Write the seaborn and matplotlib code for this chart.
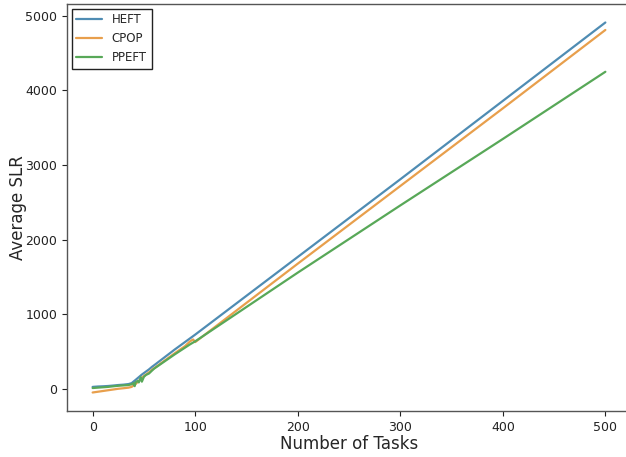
import pandas as pd
import matplotlib
matplotlib.use("Agg")
import matplotlib.pyplot as plt
import seaborn as sns

# Valores (número de tarefas vs SLR médio)
heft_x = [0, 5, 10, 15, 20, 25, 30, 35, 38, 42, 45, 48, 50, 52, 55, 58, 60,
          70, 80, 90, 95, 100, 200, 300, 400, 500]
heft_y = [30, 35, 38, 42, 48, 55, 60, 68, 80, 125, 160, 195, 215, 235, 265,
          300, 320, 425, 530, 630, 680, 730, 1770, 2810, 3860, 4910]

cpop_x = [0, 5, 10, 15, 20, 25, 30, 35, 38, 42, 45, 48, 50, 52, 55, 58, 60,
          70, 80, 90, 95, 98, 100, 200, 300, 400, 500]
cpop_y = [-45, -35, -25, -15, -5, 5, 12, 20, 30, 70, 110, 150, 175, 195, 225,
          260, 280, 380, 480, 575, 640, 665, 630, 1680, 2720, 3760, 4810]

ppeft_x = [0, 5, 10, 15, 20, 25, 30, 35, 38, 40, 41, 42, 44, 45, 47, 48, 50,
           52, 55, 58, 60, 70, 80, 90, 95, 100, 200, 300, 400, 500]
ppeft_y = [15, 20, 25, 30, 38, 45, 50, 55, 65, 80, 40, 95, 110, 90, 160, 100,
           165, 190, 210, 250, 275, 370, 465, 555, 600, 640, 1560, 2460, 3350,
           4250]

series = ["HEFT", "CPOP", "PPEFT"]
cores = ["#4f8cb3", "#e89f4c", "#58a858"]

# Montar tabela longa para o seaborn
df = pd.concat(
    [
        pd.DataFrame({"tasks": heft_x, "slr": heft_y, "alg": "HEFT"}),
        pd.DataFrame({"tasks": cpop_x, "slr": cpop_y, "alg": "CPOP"}),
        pd.DataFrame({"tasks": ppeft_x, "slr": ppeft_y, "alg": "PPEFT"}),
    ],
    ignore_index=True,
)

sns.set_style("ticks")
plt.rcParams["font.family"] = ["DejaVu Sans"]

fig = plt.figure(figsize=(6.26, 4.57), dpi=100)
ax = fig.add_axes([67 / 626, 46 / 457, (631 - 67) / 626, (411 - 4) / 457])

sns.lineplot(
    data=df,
    x="tasks",
    y="slr",
    hue="alg",
    hue_order=series,
    palette=cores,
    linewidth=1.6,
    sort=False,
    estimator=None,
    ax=ax,
)

ax.set_xticks([0, 100, 200, 300, 400, 500])
ax.set_yticks([0, 1000, 2000, 3000, 4000, 5000])
ax.tick_params(labelsize=9, colors="#222222", direction="out", length=3.5)
ax.set_xlabel("Number of Tasks", fontsize=12, labelpad=1)
ax.set_ylabel("Average SLR", fontsize=12, labelpad=-1.5)
for s in ax.spines.values():
    s.set_color("#555555")
    s.set_linewidth(1.0)

leg = ax.legend(
    loc="upper left",
    fontsize=8.5,
    fancybox=False,
    edgecolor="#222222",
    framealpha=1,
    borderaxespad=0.4,
    handlelength=2.2,
)
leg.get_frame().set_linewidth(1.0)

fig.savefig("out.png", dpi=100)
